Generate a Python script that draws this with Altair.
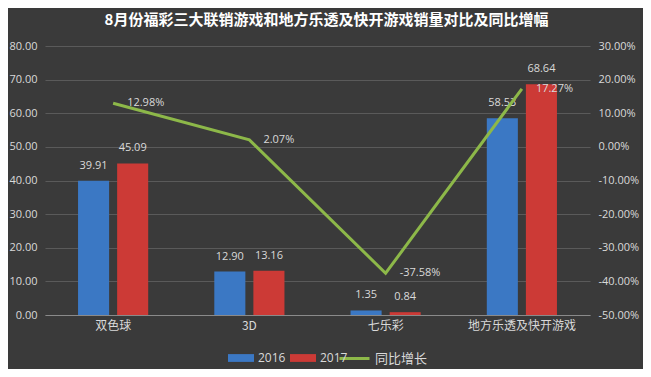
import altair as alt
import pandas as pd

categories = ['双色球', '3D', '七乐彩', '地方乐透及快开游戏']
years = ['2016', '2017']
sales_2016 = [39.91, 12.90, 1.35, 58.53]
sales_2017 = [45.09, 13.16, 0.84, 68.64]
growth = [12.98, 2.07, -37.58, 17.27]
growth_name = '同比增长'
title_text = '8月份福彩三大联销游戏和地方乐透及快开游戏销量对比及同比增幅'

left_ticks = [0, 10, 20, 30, 40, 50, 60, 70, 80]
right_ticks = [-50, -40, -30, -20, -10, 0, 10, 20, 30]

BLUE = '#3B78C4'
RED = '#CC3A36'
GREEN = '#8DB849'
TXT = '#D9D9D9'
FONT = 'Noto Sans CJK SC'
NUMFONT = 'Open Sans'

bars_df = pd.DataFrame({
    'cat': categories * 2,
    'year': [years[0]] * len(categories) + [years[1]] * len(categories),
    'value': sales_2016 + sales_2017,
})
line_df = pd.DataFrame({
    'cat': categories,
    'growth': growth,
    'series': [growth_name] * len(categories),
})

x_enc = alt.X(
    'cat:N', sort=categories, title=None,
    scale=alt.Scale(paddingInner=0.485, paddingOuter=0.2425),
    axis=alt.Axis(labelAngle=0, ticks=False, domainColor='#8A8A8A', domainWidth=1,
                  labelColor=TXT, labelFontSize=12, labelPadding=5, labelFont=FONT,
                  grid=False),
)
xoff = alt.XOffset('year:N', sort=years, scale=alt.Scale(paddingInner=0.205))
y_left = alt.Y(
    'value:Q', title=None, scale=alt.Scale(domain=[0, 80], nice=False),
    axis=alt.Axis(values=left_ticks, format='.2f', grid=True, gridColor='#5A5A5A',
                  ticks=False, domain=False, labelColor=TXT, labelFontSize=11,
                  labelFont=NUMFONT, labelPadding=8),
)

bars = alt.Chart(bars_df).mark_bar().encode(
    x=x_enc, xOffset=xoff, y=y_left,
    color=alt.Color('year:N', sort=years,
                    scale=alt.Scale(domain=years, range=[BLUE, RED]),
                    legend=alt.Legend(title=None, orient='none', legendX=183, legendY=299,
                                      direction='horizontal',
                                      symbolType='M-1,-0.3H1V0.3H-1Z', symbolSize=676,
                                      symbolStrokeWidth=0, labelColor=TXT, labelFontSize=12,
                                      labelFont=NUMFONT, labelOffset=4, columnPadding=4)),
)
bar_text = alt.Chart(bars_df).mark_text(dy=-10, color=TXT, fontSize=11, font=NUMFONT,
                                        baseline='bottom').encode(
    x=x_enc, xOffset=xoff, y=y_left,
    text=alt.Text('value:Q', format='.2f'),
)

y_right = alt.Y(
    'growth:Q', title=None, scale=alt.Scale(domain=[-50, 30], nice=False),
    axis=alt.Axis(orient='right', values=right_ticks,
                  labelExpr="replace(format(datum.value, '.2f'), '\u2212', '-') + '%'",
                  grid=False, ticks=False,
                  domain=False, labelColor=TXT, labelFontSize=11, labelFont=NUMFONT,
                  labelPadding=8),
)
line = alt.Chart(line_df).mark_line(strokeWidth=3).encode(
    x=x_enc, y=y_right,
    stroke=alt.Stroke('series:N', scale=alt.Scale(domain=[growth_name], range=[GREEN]),
                      legend=alt.Legend(title=None, orient='none', legendX=293, legendY=296,
                                        symbolType='stroke', symbolSize=900,
                                        symbolStrokeWidth=3, labelColor=TXT,
                                        labelFontSize=13, labelFont=FONT, labelOffset=4)),
)
line_text = alt.Chart(line_df).transform_calculate(
    label="replace(format(datum.growth, '.2f'), '\u2212', '-') + '%'"
).mark_text(align='left', dx=14, baseline='middle', color=TXT, fontSize=11,
            font=NUMFONT).encode(
    x=x_enc, y=y_right, text='label:N',
)

chart = alt.layer(
    alt.layer(bars, bar_text),
    alt.layer(line, line_text),
).resolve_scale(y='independent', color='independent').properties(
    width=545, height=269,
    title=alt.TitleParams(title_text, color='white', fontSize=15, font=FONT,
                          fontWeight='bold', anchor='middle', offset=12, dx=9),
    autosize=alt.AutoSizeParams(type='none'),
    padding={'left': 37, 'top': 38, 'right': 53, 'bottom': 54},
).configure(background='#3A3A3A').configure_view(stroke=None)

chart.save('out.html', embed_options={'renderer': 'svg', 'actions': False})
